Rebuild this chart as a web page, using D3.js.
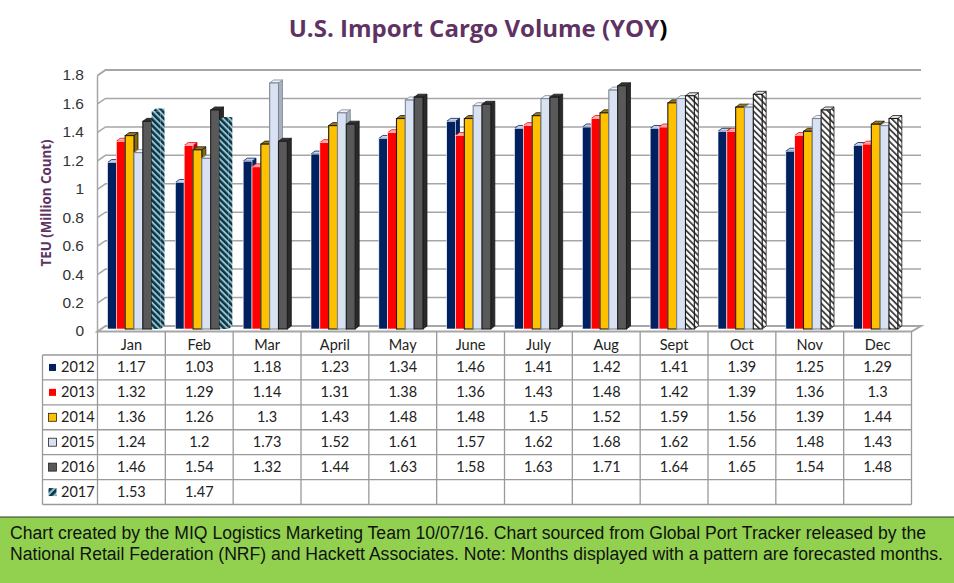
<!DOCTYPE html>
<html>
<head>
<meta charset="utf-8">
<title>U.S. Import Cargo Volume (YOY)</title>
<script src="https://cdn.jsdelivr.net/npm/d3@7"></script>
<style>
    body { margin: 0; background: #fff; }
    svg { display: block; }
    .cell { font-family: Lato, sans-serif; font-size: 14.5px; fill: #222; text-anchor: middle; }
    .tick text { font-family: "Liberation Sans", Arial, sans-serif; font-size: 15.5px; fill: #333; }
    .foot { font-family: "Liberation Sans", Arial, sans-serif; font-size: 17.6px; fill: #111; }
</style>
</head>
<body>
<div id="chart"></div>
<script>
const months = ["Jan", "Feb", "Mar", "April", "May", "June", "July", "Aug", "Sept", "Oct", "Nov", "Dec"];
const years = ["2012", "2013", "2014", "2015", "2016", "2017"];
const yTicks = [0, 0.2, 0.4, 0.6, 0.8, 1, 1.2, 1.4, 1.6, 1.8];

const v2012 = [1.17, 1.03, 1.18, 1.23, 1.34, 1.46, 1.41, 1.42, 1.41, 1.39, 1.25, 1.29];
const v2013 = [1.32, 1.29, 1.14, 1.31, 1.38, 1.36, 1.43, 1.48, 1.42, 1.39, 1.36, 1.3];
const v2014 = [1.36, 1.26, 1.3, 1.43, 1.48, 1.48, 1.5, 1.52, 1.59, 1.56, 1.39, 1.44];
const v2015 = [1.24, 1.2, 1.73, 1.52, 1.61, 1.57, 1.62, 1.68, 1.62, 1.56, 1.48, 1.43];
const v2016 = [1.46, 1.54, 1.32, 1.44, 1.63, 1.58, 1.63, 1.71, 1.64, 1.65, 1.54, 1.48];
const v2017 = [1.53, 1.47, null, null, null, null, null, null, null, null, null, null];
const values = [v2012, v2013, v2014, v2015, v2016, v2017];

// months drawn with the white hatch in the 2016 series (forecast)
const forecast2016 = ["Sept", "Oct", "Nov", "Dec"];

const footLines = [
    "Chart created by the MIQ Logistics Marketing Team 10/07/16. Chart sourced from Global Port Tracker released by the",
    "National Retail Federation (NRF) and Hackett Associates. Note: Months displayed with a pattern are forecasted months."
];

// front, side, top, outline for each year
const faces = {
    "2012": ["#002060", "#002060", "#c9d3e6", "#ffffff"],
    "2013": ["#ff0000", "#c00000", "#f7b5b5", "#ffffff"],
    "2014": ["#ffc000", "#8a6a08", "#9c7a12", "#1c1c1c"],
    "2015": ["#d9e2f3", "#a8b0bd", "#eef2f9", "#7f8794"],
    "2016": ["#595959", "#2a2a2a", "#333333", "#1c1c1c"],
    "2017": ["url(#teal)", "url(#teal)", "url(#teal)", "none"]
};

let width = 954, height = 583;
let depthX = 4, depthY = 3;

let svg = d3.select("#chart").append("svg")
    .attr("width", width)
    .attr("height", height);

let defs = svg.append("defs");

function hatch(id, bg, fg, angle, size, share) {
    let p = defs.append("pattern")
        .attr("id", id)
        .attr("patternUnits", "userSpaceOnUse")
        .attr("patternTransform", "rotate(" + angle + ")")
        .attr("width", size)
        .attr("height", size);
    p.append("rect").attr("width", size).attr("height", size).attr("fill", bg);
    p.append("rect").attr("width", size * share).attr("height", size).attr("fill", fg);
}
hatch("teal", "#8fc6c0", "#0e2f4f", -45, 4.4, 0.55);
hatch("white", "#ffffff", "#444444", -45, 4.4, 0.42);
hatch("tealKey", "#8fc6c0", "#0e2f4f", 45, 5, 0.55);

let x = d3.scaleBand().domain(months).range([97.5, 911.5]);
let x1 = d3.scaleBand().domain(years).range([10, 63]);
let y = d3.scaleLinear().domain([0, 1.8]).range([329, 73]);
let rows = d3.scaleBand().domain(years).range([355, 504.5]);

// title
let title = svg.append("text")
    .attr("x", 478)
    .attr("y", 37)
    .attr("text-anchor", "middle")
    .style("font-family", "'Open Sans', sans-serif")
    .style("font-weight", "700")
    .style("font-size", "24px")
    .attr("fill", "#5f3264");
title.append("tspan").text("U.S. Import Cargo Volume (YOY");
title.append("tspan").attr("fill", "#000").text(")");

// walls and gridlines
let wall = svg.append("g")
    .attr("fill", "none")
    .attr("stroke", "#a6a6a6");

wall.selectAll(".grid")
    .data(yTicks.filter(d => d > 0))
    .enter().append("path")
    .attr("class", "grid")
    .attr("stroke-width", d => d == 1.8 ? 2 : 1.5)
    .attr("d", d => {
        let back = y(d) - depthY;
        return "M" + x.range()[0] + "," + (back + 5.5) + " L" + (x.range()[0] + 8) + "," + back + " H921";
    });

wall.append("path")
    .attr("stroke-width", 1.5)
    .attr("d", "M" + x.range()[0] + "," + (y(1.8) + 2.5) + " V" + (y(0) + 2.5));

wall.append("path")
    .attr("stroke-width", 2)
    .attr("d", "M" + x.range()[0] + "," + (y(0) + 2.5) + " L" + (x.range()[0] + 8) + "," + (y(0) - depthY) + " H921 L" + x.range()[1] + "," + (y(0) + 2.5) + " Z");

// y axis labels
svg.append("g")
    .attr("transform", "translate(87,2)")
    .call(d3.axisLeft(y).tickValues(yTicks).tickSize(0).tickFormat(d => String(d)))
    .call(g => g.select(".domain").remove());

svg.append("text")
    .attr("transform", "translate(50.5,203) rotate(-90)")
    .attr("text-anchor", "middle")
    .style("font-family", "'Open Sans', sans-serif")
    .style("font-weight", "700")
    .style("font-size", "13.3px")
    .attr("fill", "#5f3264")
    .text("TEU (Million Count)");

// bars, one series after the other so each hides the side of the one before
years.forEach(function(year, s) {
    let data = values[s]
        .map((v, i) => ({ month: months[i], value: v }))
        .filter(d => d.value !== null);

    let f = faces[year];
    let g = svg.append("g").attr("class", "series-" + year);
    let bw = x1.bandwidth();
    let isHatch = d => year == "2016" && forecast2016.indexOf(d.month) >= 0;
    let left = d => x(d.month) + x1(year);

    g.selectAll(".side")
        .data(data)
        .enter().append("path")
        .attr("class", "side")
        .attr("fill", d => isHatch(d) ? "url(#white)" : f[1])
        .attr("stroke", f[3] == "#ffffff" ? f[1] : f[3])
        .attr("stroke-width", 0.8)
        .attr("d", d => {
            let r = left(d) + bw;
            return "M" + r + "," + y(d.value) + " l" + depthX + "," + (-depthY) + " V" + (y(0) - depthY) + " l" + (-depthX) + "," + depthY + " Z";
        });

    g.selectAll(".top")
        .data(data)
        .enter().append("path")
        .attr("class", "top")
        .attr("fill", d => isHatch(d) ? "#e4e4e4" : f[2])
        .attr("stroke", f[3] == "#ffffff" ? f[0] : f[3])
        .attr("stroke-width", 0.8)
        .attr("d", d => "M" + left(d) + "," + y(d.value) + " l" + depthX + "," + (-depthY) + " h" + bw + " l" + (-depthX) + "," + depthY + " Z");

    g.selectAll(".front")
        .data(data)
        .enter().append("rect")
        .attr("class", "front")
        .attr("x", d => left(d))
        .attr("y", d => y(d.value))
        .attr("width", bw)
        .attr("height", d => y(0) - y(d.value))
        .attr("fill", d => isHatch(d) ? "url(#white)" : f[0])
        .attr("stroke", f[3])
        .attr("stroke-width", f[3] == "#ffffff" ? 0.6 : 1.1);
});

// data table
let table = svg.append("g")
    .attr("stroke", "#9a9a9a")
    .attr("stroke-width", 1.3)
    .attr("fill", "none");

let rowLines = [355].concat(years.map(d => rows(d) + rows.bandwidth()));
table.selectAll(".hl")
    .data(rowLines)
    .enter().append("line")
    .attr("x1", 42.5)
    .attr("x2", x.range()[1])
    .attr("y1", d => d)
    .attr("y2", d => d);

let colLines = months.map(d => x(d)).concat([x.range()[1]]);
table.selectAll(".vl")
    .data(colLines)
    .enter().append("line")
    .attr("x1", d => d)
    .attr("x2", d => d)
    .attr("y1", 331.5)
    .attr("y2", rowLines[rowLines.length - 1]);

table.append("line")
    .attr("x1", 42.5)
    .attr("x2", 42.5)
    .attr("y1", 355)
    .attr("y2", rowLines[rowLines.length - 1]);

svg.selectAll(".head")
    .data(months)
    .enter().append("text")
    .attr("class", "cell head")
    .attr("x", d => x(d) + x.bandwidth() / 2)
    .attr("y", 350)
    .text(d => d);

years.forEach(function(year, s) {
    let rowY = rows(year) + rows.bandwidth() / 2;
    let outlined = s >= 2 && s < 5;
    let size = s < 2 ? 7 : 8;

    svg.append("rect")
        .attr("x", 52.5 - size / 2)
        .attr("y", rowY - size / 2)
        .attr("width", size)
        .attr("height", size)
        .attr("fill", year == "2017" ? "url(#tealKey)" : faces[year][0])
        .attr("stroke", outlined ? "#222" : "none")
        .attr("stroke-width", 0.8);

    svg.append("text")
        .attr("class", "cell")
        .attr("x", 61)
        .attr("y", rowY + 5)
        .style("text-anchor", "start")
        .text(year);

    svg.selectAll(".val-" + year)
        .data(values[s].map((v, i) => ({ month: months[i], value: v })).filter(d => d.value !== null))
        .enter().append("text")
        .attr("class", "cell val-" + year)
        .attr("x", d => x(d.month) + x.bandwidth() / 2)
        .attr("y", rowY + 5)
        .text(d => d.value);
});

// footer band
svg.append("rect")
    .attr("x", 0)
    .attr("y", 517)
    .attr("width", width)
    .attr("height", 66)
    .attr("fill", "#91d14f");

svg.append("line")
    .attr("x1", 0)
    .attr("x2", width)
    .attr("y1", 517)
    .attr("y2", 517)
    .attr("stroke", "#333")
    .attr("stroke-width", 1);

svg.selectAll(".foot")
    .data(footLines)
    .enter().append("text")
    .attr("class", "foot")
    .attr("x", 10)
    .attr("y", (d, i) => 539 + i * 21)
    .text(d => d);
</script>
</body>
</html>
